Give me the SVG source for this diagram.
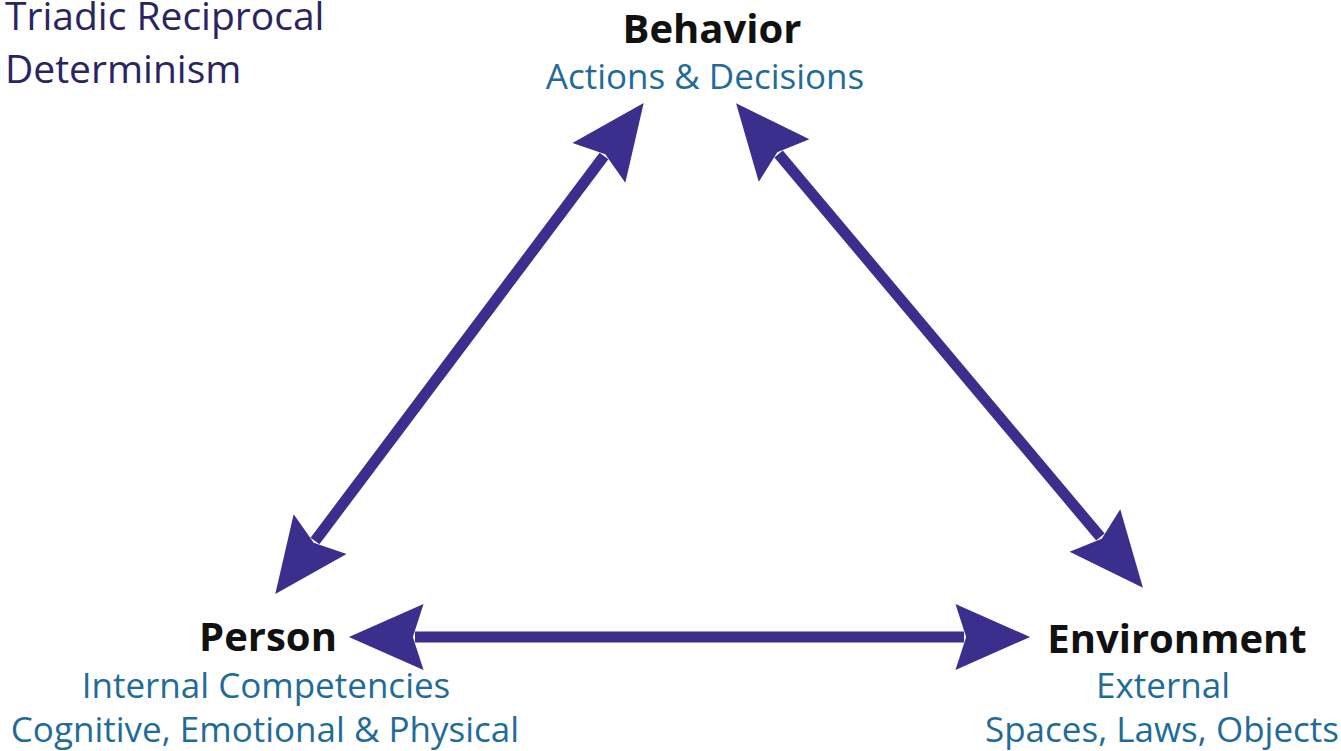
<svg xmlns="http://www.w3.org/2000/svg" width="1341" height="751" viewBox="0 0 1341 751">
<style>
.title{font-family:"Open Sans","Liberation Sans",sans-serif;font-size:39px;fill:#2a2560}
.head{font-family:"Open Sans","Liberation Sans",sans-serif;font-size:40px;font-weight:bold;fill:#111}
.sub{font-family:"Open Sans","Liberation Sans",sans-serif;font-size:35px;fill:#1f6c98}
.arr{stroke:#3b2e8c;stroke-width:11;fill:none;marker-start:url(#ah);marker-end:url(#ah)}
</style>
<defs>
<marker id="ah" markerUnits="userSpaceOnUse" markerWidth="80" markerHeight="80" viewBox="-10 -35 75 70" refX="0" refY="0" orient="auto-start-reverse" overflow="visible">
<path d="M62,0 L-8,-31 L2,0 L-8,31 Z" fill="#3b2e8c"/>
</marker>
</defs>
<rect width="1341" height="751" fill="#fff"/>
<g id="title">
<text class="title" x="5" y="30">Triadic Reciprocal</text>
<text class="title" x="5" y="83">Determinism</text>
</g>
<g id="connectors">
<line class="arr" x1="604" y1="156" x2="315" y2="541"/>
<line class="arr" x1="778.6" y1="154" x2="1100.4" y2="537"/>
<line class="arr" x1="415" y1="637" x2="964" y2="637"/>
</g>
<g id="behavior">
<text class="head" x="712" y="43" text-anchor="middle">Behavior</text>
<text class="sub" x="705" y="89" text-anchor="middle">Actions &amp; Decisions</text>
</g>
<g id="person">
<text class="head" x="268" y="651" text-anchor="middle">Person</text>
<text class="sub" x="266" y="698" text-anchor="middle">Internal Competencies</text>
<text class="sub" x="265" y="742" text-anchor="middle">Cognitive, Emotional &amp; Physical</text>
</g>
<g id="environment">
<text class="head" x="1177" y="653" text-anchor="middle">Environment</text>
<text class="sub" x="1163" y="698" text-anchor="middle">External</text>
<text class="sub" x="1162" y="742" text-anchor="middle">Spaces, Laws, Objects</text>
</g>
</svg>
